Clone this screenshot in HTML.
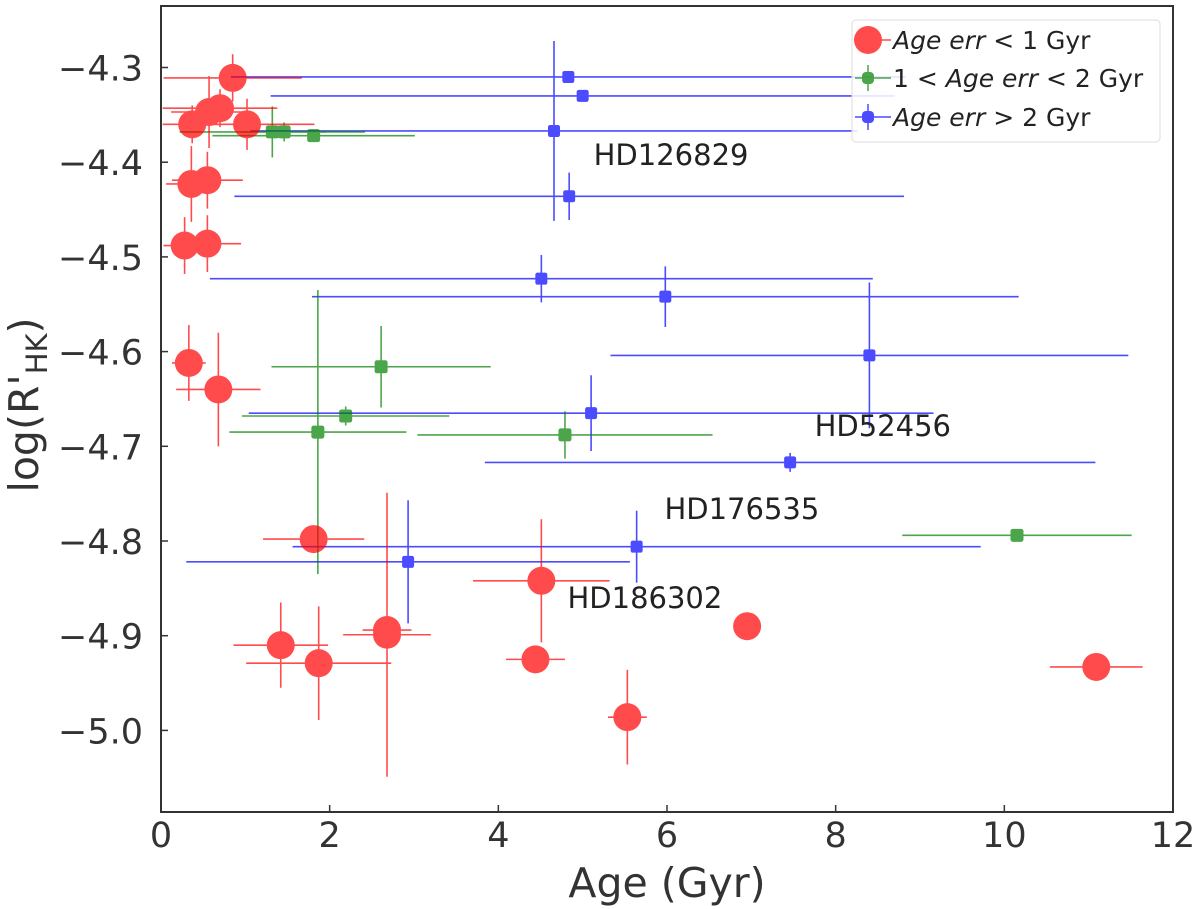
<!DOCTYPE html>
<html><head><meta charset="utf-8"><style>
html,body{margin:0;padding:0;background:#fff}
svg{display:block;font-family:"DejaVu Sans","Liberation Sans",sans-serif}
</style></head><body>
<svg id="chart" width="1200" height="909" viewBox="0 0 1200 909"></svg>
<script>
// Red: Age err < 1 Gyr
const redAge=[0.85,0.70,0.57,0.37,1.02,0.36,0.55,0.28,0.55,0.33,0.68,1.81,1.42,1.87,2.68,2.68,4.51,4.44,5.53,6.95,11.09];
const redAgeErr=[0.82,0.68,0.45,0.35,0.8,0.3,0.42,0.25,0.4,0.2,0.5,0.6,0.56,0.86,0.52,0.29,0.81,0.35,0.23,0.1,0.55];
const redLog=[-4.311,-4.343,-4.347,-4.360,-4.360,-4.423,-4.419,-4.488,-4.486,-4.612,-4.640,-4.798,-4.910,-4.929,-4.899,-4.894,-4.842,-4.925,-4.986,-4.890,-4.933];
const redLogErr=[0.025,0.02,0.038,0.02,0.027,0.04,0.03,0.03,0.03,0.04,0.06,0.01,0.045,0.06,0.15,0.0,0.065,0.01,0.05,0.01,0.01];
// Green: 1 < Age err < 2 Gyr
const greenAge=[1.32,1.46,1.81,2.61,2.19,1.86,4.79,10.15];
const greenAgeErr=[1.1,0.5,1.2,1.3,1.23,1.05,1.75,1.36];
const greenLog=[-4.368,-4.368,-4.372,-4.616,-4.668,-4.685,-4.688,-4.794];
const greenLogErr=[0.027,0.01,0.005,0.043,0.01,0.15,0.025,0.005];
// Blue: Age err > 2 Gyr
const blueAge=[4.83,5.0,4.66,4.84,4.51,5.98,8.40,5.10,7.46,5.64,2.93];
const blueAgeErr=[4.0,3.7,3.6,3.97,3.93,4.19,3.07,4.06,3.62,4.08,2.63];
const blueLog=[-4.310,-4.330,-4.367,-4.436,-4.523,-4.542,-4.604,-4.665,-4.717,-4.806,-4.822];
const blueLogErr=[0.005,0.005,0.095,0.025,0.025,0.032,0.077,0.04,0.01,0.038,0.065];
const xTicks=[0,2,4,6,8,10,12];
const yTicks=[-4.3,-4.4,-4.5,-4.6,-4.7,-4.8,-4.9,-5.0];
const annNames=["HD126829","HD52456","HD176535","HD186302"];
const annAge=[5.13,7.75,5.97,4.82];
const annLog=[-4.403,-4.689,-4.777,-4.871];

const svg=document.getElementById('chart');
const NS='http://www.w3.org/2000/svg';
const L=161,R=1173,T=6,B=812;
function X(v){return L+(v/12)*(R-L);}
function Y(v){return 67.5+(-4.3-v)*947;}
function mk(tag,attrs,parent){const e=document.createElementNS(NS,tag);for(const k in attrs)e.setAttribute(k,attrs[k]);(parent||svg).appendChild(e);return e;}

const plot=mk('g',{});



function series(name,color,ages,ageErr,logs,logErr,marker,size){
  const g=mk('g',{opacity:0.7},plot);
  
  
  for(let i=0;i<ages.length;i++){
    const cx=X(ages[i]),cy=Y(logs[i]);
    const p=mk('g',{},g);
    
    
    mk('line',{x1:X(ages[i]-ageErr[i]),x2:X(ages[i]+ageErr[i]),y1:cy,y2:cy,stroke:color,'stroke-width':1.6},p);
    mk('line',{x1:cx,x2:cx,y1:Y(logs[i]-logErr[i]),y2:Y(logs[i]+logErr[i]),stroke:color,'stroke-width':1.6},p);
    if(marker==='c')mk('circle',{cx:cx,cy:cy,r:size,fill:color},p);
    else mk('rect',{x:cx-size,y:cy-size,width:2*size,height:2*size,rx:size*0.35,fill:color},p);
  }
}
series('series-age-err-gt-2','#0000ff',blueAge,blueAgeErr,blueLog,blueLogErr,'s',6);
series('series-age-err-1-2','#008000',greenAge,greenAgeErr,greenLog,greenLogErr,'s',6.5);
series('series-age-err-lt-1','#ff0000',redAge,redAgeErr,redLog,redLogErr,'c',14);

for(let i=0;i<annNames.length;i++){
  const t=mk('text',{x:X(annAge[i]),y:Y(annLog[i]),'font-size':29,fill:'#222'});
  t.textContent=annNames[i];
  
  
}

const frame=mk('rect',{x:L,y:T,width:R-L,height:B-T,fill:'none',stroke:'#333','stroke-width':2});



for(const v of xTicks){
  const x=X(v);
  mk('line',{x1:x,x2:x,y1:B,y2:B-7,stroke:'#333','stroke-width':1.5});
  const t=mk('text',{x:x,y:847,'font-size':35,'text-anchor':'middle',fill:'#333'});
  t.textContent=String(v);
  
  
}
for(const v of yTicks){
  const y=Y(v);
  mk('line',{x1:L,x2:L+7,y1:y,y2:y,stroke:'#333','stroke-width':1.5});
  const t=mk('text',{x:143,y:y+13,'font-size':35,'text-anchor':'end',fill:'#333'});
  t.textContent='\u2212'+Math.abs(v).toFixed(1);
  
  
}
const xt=mk('text',{x:667,y:897,'font-size':41,'text-anchor':'middle',fill:'#333'});
xt.textContent='Age (Gyr)';


const yt=mk('text',{transform:'translate(38,405) rotate(-90)','font-size':41,'text-anchor':'middle',fill:'#333'});
yt.innerHTML='log(R\'<tspan font-size="29" dy="9">HK</tspan><tspan dy="-9">)</tspan>';



const lg=mk('g',{});


mk('rect',{x:852,y:20,width:308,height:122,rx:4,fill:'#fff','fill-opacity':0.85,stroke:'#ddd','stroke-width':1},lg);
const entries=[['#ff0000','c','<tspan font-style="italic">Age err</tspan> &lt; 1 Gyr',40],['#008000','s','1 &lt; <tspan font-style="italic">Age err</tspan> &lt; 2 Gyr',78],['#0000ff','s','<tspan font-style="italic">Age err</tspan> &gt; 2 Gyr',117]];
for(const e of entries){
  const g=mk('g',{},lg);
  
  
  const m=mk('g',{opacity:0.7},g);
  mk('line',{x1:855,x2:891,y1:e[3],y2:e[3],stroke:e[0],'stroke-width':1.5},m);
  mk('line',{x1:868,x2:868,y1:e[3]-13,y2:e[3]+13,stroke:e[0],'stroke-width':1.5},m);
  if(e[1]==='c')mk('circle',{cx:868,cy:e[3],r:14,fill:e[0]},m);
  else mk('rect',{x:862,y:e[3]-6,width:12,height:12,rx:4,fill:e[0]},m);
  const t=mk('text',{x:893,y:e[3]+9,'font-size':25,fill:'#222'},g);
  t.innerHTML=e[2];
}
</script>
</body></html>
